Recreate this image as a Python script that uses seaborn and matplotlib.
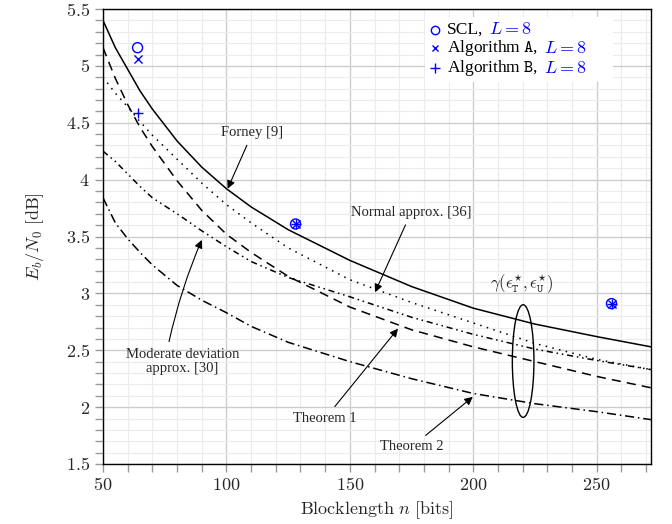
import numpy as np
import pandas as pd
import matplotlib
matplotlib.use("Agg")
import matplotlib.pyplot as plt
import seaborn as sns
from matplotlib.patches import Ellipse
from matplotlib.lines import Line2D
from matplotlib.offsetbox import AnchoredOffsetbox, HPacker, VPacker, TextArea, DrawingArea
from matplotlib.ticker import MultipleLocator, FuncFormatter

# ---------------- data ----------------
n_grid = [50, 55, 60, 65, 70, 80, 90, 100, 110, 125, 150, 175, 200, 225, 250, 272]
forney = [5.40, 5.16, 4.97, 4.78, 4.62, 4.34, 4.11, 3.92, 3.76, 3.56, 3.29, 3.06, 2.87, 2.73, 2.62, 2.53]
normal_approx = [4.90, 4.76, 4.64, 4.51, 4.39, 4.18, 3.97, 3.78, 3.62, 3.40, 3.12, 2.92, 2.74, 2.56, 2.42, 2.33]
theorem1 = [5.16, 4.89, 4.66, 4.46, 4.29, 3.99, 3.73, 3.52, 3.36, 3.15, 2.88, 2.68, 2.53, 2.40, 2.27, 2.17]
moderate_dev = [4.25, 4.16, 4.05, 3.94, 3.84, 3.70, 3.55, 3.41, 3.28, 3.14, 2.97, 2.79, 2.64, 2.51, 2.41, 2.33]
theorem2 = [3.84, 3.62, 3.48, 3.36, 3.25, 3.07, 2.94, 2.83, 2.71, 2.57, 2.40, 2.25, 2.12, 2.03, 1.96, 1.89]

sim_n = [64, 128, 256]
scl = [5.16, 3.61, 2.91]
alg_a = [5.06, 3.61, 2.91]
alg_b = [4.59, 3.61, 2.91]

legend_names = ["SCL,", r"Algorithm $\mathtt{A}$,", r"Algorithm $\mathtt{B}$,"]
legend_suffix = r"$L=8$"

# ---------------- style ----------------
sns.set_theme(style="white")
plt.rcParams["font.family"] = ["Liberation Serif", "DejaVu Serif"]
plt.rcParams["mathtext.fontset"] = "cm"

fig = plt.figure(figsize=(6.72, 5.24), dpi=100)
ax = fig.add_axes([103 / 672, 60 / 524, 548 / 672, 455 / 524])

lw = 1.1
curves = [
    (forney, "-"),
    (normal_approx, (0, (1, 3.5))),
    (theorem1, (0, (6, 4))),
    (moderate_dev, (0, (4, 2.5, 1, 2.5, 1, 2.5))),
    (theorem2, (0, (6, 2.5, 1, 2.5))),
]
for vals, ls in curves:
    sns.lineplot(x=n_grid, y=vals, ax=ax, color="black", linewidth=lw,
                 linestyle=ls, zorder=3)

sns.scatterplot(x=sim_n, y=scl, ax=ax, marker="o", s=52, facecolor="none",
                edgecolor="blue", linewidth=1.0, zorder=5)
sns.scatterplot(x=sim_n, y=alg_a, ax=ax, marker="x", s=34, color="blue",
                linewidth=1.0, zorder=5)
sns.scatterplot(x=sim_n, y=alg_b, ax=ax, marker="+", s=60, color="blue",
                linewidth=1.0, zorder=5)

# ---------------- axes ----------------
ax.set_xlim(50, 272)
ax.set_ylim(1.5, 5.5)
ax.xaxis.set_major_locator(MultipleLocator(50))
ax.xaxis.set_minor_locator(MultipleLocator(10))
ax.yaxis.set_major_locator(MultipleLocator(0.5))
ax.yaxis.set_minor_locator(MultipleLocator(0.1))
fmt = FuncFormatter(lambda v, p: f"${v:g}$")
ax.xaxis.set_major_formatter(fmt)
ax.yaxis.set_major_formatter(fmt)
ax.tick_params(which="both", direction="out", color="#9a9a9a", width=1,
               labelsize=13, bottom=True, left=True, top=False, right=False)
ax.tick_params(which="major", length=6)
ax.tick_params(which="minor", length=6)
ax.set_axisbelow(True)
ax.grid(which="major", color="#cdcdcd", linewidth=1.0)
ax.grid(which="minor", color="#ececec", linewidth=0.8)
for sp in ax.spines.values():
    sp.set_color("black")
    sp.set_linewidth(1.0)

ax.set_xlabel(r"$\mathrm{Blocklength}\ n\ \mathrm{[bits]}$", fontsize=13, labelpad=4)
ax.set_ylabel(r"$E_b/N_0\ \mathrm{[dB]}$", fontsize=13, labelpad=14)

# ---------------- annotations ----------------
fs_ann = 10.5
arrow = dict(arrowstyle="-|>", color="black", lw=0.8, mutation_scale=12,
             shrinkB=0)
ax.annotate("Forney [9]", xy=(100.5, 3.92), xytext=(110.5, 4.41), ha="center",
            va="center", fontsize=fs_ann, arrowprops=arrow, zorder=6)
ax.annotate("Normal approx. [36]", xy=(160.2, 3.01), xytext=(174.8, 3.71),
            ha="center", va="center", fontsize=fs_ann, arrowprops=arrow, zorder=6)
ax.annotate("Theorem 1", xy=(169.5, 2.69), xytext=(140, 1.90), ha="center",
            va="center", fontsize=fs_ann, arrowprops=arrow, zorder=6)
ax.annotate("Theorem 2", xy=(199.8, 2.09), xytext=(175, 1.65), ha="center",
            va="center", fontsize=fs_ann, arrowprops=arrow, zorder=6)
ax.annotate("Moderate deviation\napprox. [30]", xy=(90, 3.47), xytext=(82.2, 2.405),
            ha="center", va="center", fontsize=fs_ann, linespacing=1.1,
            arrowprops=dict(arrowstyle="-|>", color="black", lw=0.8,
                            mutation_scale=12, shrinkB=0, relpos=(0.37, 1.0),
                            connectionstyle="arc3,rad=-0.05"), zorder=6)

ax.add_patch(Ellipse((220.2, 2.405), width=8.75, height=0.99, fill=False,
                     edgecolor="black", linewidth=1.0, zorder=6))
ax.text(219.6, 3.09, r"$\gamma(\epsilon^{\star}_{\mathtt{T}},\epsilon^{\star}_{\mathtt{U}})$",
        ha="center", va="center", fontsize=12)

# ---------------- legend ----------------
markers = [("o", 6.0, "none"), ("x", 4.8, "blue"), ("+", 6.5, "blue")]
rows = []
for name, (mk, ms, fc) in zip(legend_names, markers):
    da = DrawingArea(9, 9, 0, 0)
    da.add_artist(Line2D([4.5], [4.5], marker=mk, markersize=ms, color="blue",
                         markerfacecolor=fc, markeredgewidth=1.0, linestyle="none"))
    t1 = TextArea(name, textprops=dict(color="black", fontsize=12.5))
    t2 = TextArea(legend_suffix, textprops=dict(color="blue", fontsize=13))
    rows.append(HPacker(children=[da, t1, t2], align="center", pad=0, sep=4))
vbox = VPacker(children=rows, align="left", pad=0, sep=0)
spacer = DrawingArea(16, 5, 0, 0)
box = HPacker(children=[vbox, spacer], align="top", pad=0, sep=0)
anch = AnchoredOffsetbox(loc="upper left", child=box, pad=0.3, borderpad=0,
                         frameon=True, bbox_to_anchor=(425 / 672, 507 / 524),
                         bbox_transform=fig.transFigure, prop=dict(size=10))
anch.patch.set_boxstyle("square", pad=0)
anch.patch.set_edgecolor("none")
anch.patch.set_facecolor("white")
anch.set_zorder(7)
ax.add_artist(anch)

fig.savefig("out.png", dpi=100)
